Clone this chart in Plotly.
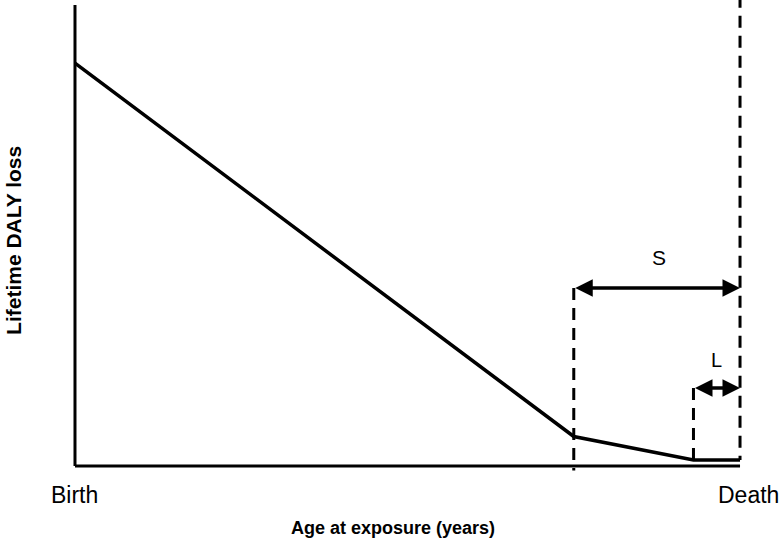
import plotly.graph_objects as go

# ---- data (age as % of lifespan, DALY loss as % of max scale) ----
age = [0, 75, 93, 100]
daly_loss = [87.4, 6.4, 1.3, 1.3]

x_tick_vals = [0, 100]
x_tick_text = ["Birth", "Death"]

s_start, l_start, death = 75, 93, 100
s_level, l_level = 38.6, 16.9
s_label_pos = (87.8, 45.3)
l_label_pos = (96.5, 23.0)
y_top = 100

FONT = "Liberation Sans, Arial, sans-serif"

fig = go.Figure()

fig.add_trace(go.Scatter(
    x=age, y=daly_loss, mode="lines",
    line=dict(color="black", width=3.5),
    hoverinfo="skip", showlegend=False,
))

shapes = []
# axes
shapes.append(dict(type="line", xref="x", yref="y", x0=0, x1=0, y0=0, y1=y_top,
                   line=dict(color="black", width=3)))
shapes.append(dict(type="line", xref="x", yref="y", x0=0, x1=death, y0=0, y1=0,
                   line=dict(color="black", width=3)))
# dashed verticals
dash = "12px,8px"
shapes.append(dict(type="line", xref="x", yref="y", x0=s_start, x1=s_start,
                   y0=s_level, y1=-1.0, line=dict(color="black", width=3, dash=dash)))
shapes.append(dict(type="line", xref="x", yref="y", x0=l_start, x1=l_start,
                   y0=l_level, y1=daly_loss[2], line=dict(color="black", width=3, dash=dash)))
shapes.append(dict(type="line", xref="x", yref="y", x0=death, x1=death,
                   y0=102, y1=daly_loss[3], line=dict(color="black", width=3, dash=dash)))

annotations = []
# double arrows
for x0, lvl in [(s_start, s_level), (l_start, l_level)]:
    annotations.append(dict(
        x=death, y=lvl, ax=x0, ay=lvl, xref="x", yref="y", axref="x", ayref="y",
        text="", showarrow=True, arrowhead=2, startarrowhead=2,
        arrowside="end+start", arrowwidth=3.5, arrowsize=1, startarrowsize=1,
        arrowcolor="black",
    ))
annotations.append(dict(x=s_label_pos[0], y=s_label_pos[1], xref="x", yref="y",
                        text="S", showarrow=False, font=dict(family=FONT, size=21, color="black")))
annotations.append(dict(x=l_label_pos[0], y=l_label_pos[1], xref="x", yref="y",
                        text="L", showarrow=False, font=dict(family=FONT, size=20, color="black")))
# tick labels
for v, t, xs in zip(x_tick_vals, x_tick_text, [0, 8]):
    annotations.append(dict(x=v, y=0, xref="x", yref="y", yanchor="middle",
                            yshift=-29, xshift=xs, text=t, showarrow=False,
                            font=dict(family=FONT, size=23, color="black")))
# axis titles
annotations.append(dict(x=0.475, y=-0.119, xref="paper", yref="paper",
                        xanchor="center", yanchor="middle",
                        text="<b>Age at exposure (years)</b>", showarrow=False,
                        font=dict(family=FONT, size=18, color="black")))
annotations.append(dict(x=-0.084, y=0.4915, xref="paper", yref="paper",
                        xanchor="center", yanchor="middle",
                        text="<b>Lifetime DALY loss</b>", showarrow=False, textangle=-90,
                        font=dict(family=FONT, size=21, color="black")))

fig.update_layout(
    width=784, height=544,
    margin=dict(l=70, r=34, t=0, b=72),
    paper_bgcolor="white", plot_bgcolor="white",
    shapes=shapes, annotations=annotations,
    xaxis=dict(range=[-0.75, 101.5], visible=False, fixedrange=True),
    yaxis=dict(range=[-1.3, 101.1], visible=False, fixedrange=True),
    showlegend=False,
)

fig.write_html("out.html", config={"displayModeBar": False},
               post_script="document.body.style.margin='0';")
